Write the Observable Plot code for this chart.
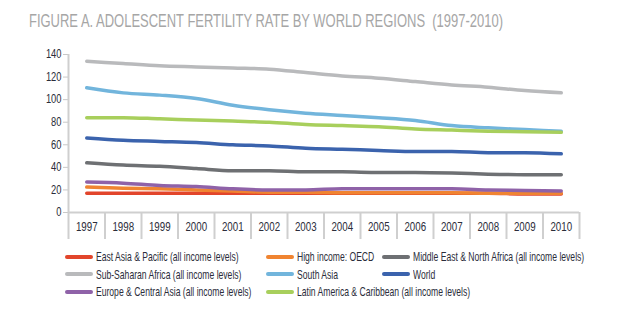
<!DOCTYPE html>
<html>
<head>
<meta charset="utf-8">
<script src="https://cdn.jsdelivr.net/npm/d3@7"></script>
<script src="https://cdn.jsdelivr.net/npm/@observablehq/plot@0.6"></script>
<style>
  body { margin: 0; background: #fff; width: 618px; height: 322px; position: relative; overflow: hidden;
         font-family: "Liberation Sans", Arial, sans-serif; }
  #title { position: absolute; left: 29px; top: 11px; font-size: 18px; color: #a6a6a6; white-space: nowrap; transform-origin: 0 0; }
  #chart { position: absolute; left: 0; top: 38px; }
  #legend { position: absolute; left: 0; top: 249px; width: 618px; height: 60px; }
  .item { position: absolute; display: flex; align-items: center; font-size: 13px; color: #2b2d3a; white-space: nowrap; }
  .sw { width: 28px; height: 4px; border-radius: 2px; margin-right: 3px; flex: none; }
  .lt { display: inline-block; transform-origin: 0 50%; }
</style>
</head>
<body>
<div id="title">FIGURE A. ADOLESCENT FERTILITY RATE BY WORLD REGIONS&nbsp;&nbsp;(1997-2010)</div>
<div id="chart"></div>
<div id="legend"></div>
<script>
const years = [1997, 1998, 1999, 2000, 2001, 2002, 2003, 2004, 2005, 2006, 2007, 2008, 2009, 2010];
const yTicks = [0, 20, 40, 60, 80, 100, 120, 140];

const seriesNames = [
  "East Asia & Pacific (all income levels)",
  "High income: OECD",
  "Middle East & North Africa (all income levels)",
  "Sub-Saharan Africa (all income levels)",
  "South Asia",
  "World",
  "Europe & Central Asia (all income levels)",
  "Latin America & Caribbean (all income levels)"
];
const seriesColors = ["#e2452b", "#f08431", "#6e7073", "#b9babc", "#72b5dc", "#3b63ad", "#8f62a8", "#a8cf5c"];

const eastAsiaPacific = [17, 17, 17, 17, 17, 17, 17, 17, 17, 17, 17, 17, 16.5, 16.5];
const highIncomeOECD  = [22.5, 21.5, 21, 20, 19, 18, 18, 17.5, 17.5, 17.5, 17.5, 17, 17, 17];
const middleEastNA    = [44, 42, 41, 39, 37, 37, 36, 36, 35.5, 35.5, 35, 34, 33.5, 33.5];
const subSaharan      = [134, 132, 130, 129, 128, 127, 124, 121, 119, 116, 113, 111, 108, 106];
const southAsia       = [110.5, 106, 104, 101, 95, 91, 88, 86, 84, 81.5, 77, 75, 73.5, 72];
const world           = [66, 64, 63, 62, 60, 59, 57, 56, 55, 54, 54, 53, 53, 52];
const europeCA        = [27, 26, 24, 23, 21, 20, 20, 21, 21, 21, 21, 20, 19.5, 19];
const latinAmerica    = [84, 84, 83, 82, 81, 80, 78, 77, 76, 74, 73, 72, 71.5, 71];

const seriesValues = [eastAsiaPacific, highIncomeOECD, middleEastNA, subSaharan, southAsia, world, europeCA, latinAmerica];
const drawOrder = [3, 4, 7, 5, 2, 0, 1, 6];

const data = [];
for (const i of drawOrder) {
  years.forEach((yr, j) => data.push({series: seriesNames[i], year: yr, value: seriesValues[i][j]}));
}
const edges = years.map(y => y - 0.5).concat([years[years.length - 1] + 0.5]);

const plot = Plot.plot({
  width: 618,
  height: 210,
  marginLeft: 68,
  marginRight: 39,
  marginTop: 16,
  marginBottom: 36,
  style: { fontFamily: '"Liberation Sans", Arial, sans-serif', fontSize: "12px", color: "#2b2d3a", background: "#fff" },
  x: { domain: [years[0] - 0.5, years[years.length - 1] + 0.5] },
  y: { domain: [0, 140] },
  color: { domain: seriesNames, range: seriesColors },
  marks: [
    Plot.axisY(yTicks, { tickSize: 5, tickPadding: 2, stroke: "#c8c8c8", fill: "#2b2d3a", label: null, fontSize: 12 }),
    Plot.ruleX([edges[0]], { stroke: "#cfcfcf", strokeWidth: 2 }),
    Plot.axisX(edges, { tickSize: 27, tickFormat: () => "", stroke: "#cfcfcf", strokeWidth: 2, label: null }),
    Plot.axisX(years, { tickSize: 0, tickPadding: 10, tickFormat: d => String(d), fill: "#2b2d3a", label: null, fontSize: 12.5 }),
    Plot.ruleY([0], { stroke: "#cfcfcf", strokeWidth: 2 }),
    Plot.line(data, { x: "year", y: "value", z: "series", stroke: "series", strokeWidth: 3.5, curve: "monotone-x" })
  ]
});
document.getElementById("chart").appendChild(plot);

// condense the axis labels horizontally (reference uses a condensed face)
plot.querySelectorAll("text").forEach(t => {
  const tr = t.getAttribute("transform");
  if (tr && !t.hasAttribute("x")) t.setAttribute("transform", tr + " scale(0.78,1)");
});

const colLeft = [65, 266, 382];
const rowTop = [0, 17.5, 35];
const legend = document.getElementById("legend");
seriesNames.forEach((name, k) => {
  const el = document.createElement("div");
  el.className = "item";
  el.style.left = colLeft[k % 3] + "px";
  el.style.top = rowTop[Math.floor(k / 3)] + "px";
  const sw = document.createElement("span");
  sw.className = "sw";
  sw.style.background = seriesColors[k];
  const lt = document.createElement("span");
  lt.className = "lt";
  lt.textContent = name;
  lt.style.transform = "scaleX(0.66)";
  el.appendChild(sw);
  el.appendChild(lt);
  legend.appendChild(el);
});

const title = document.getElementById("title");
const tw = title.getBoundingClientRect().width;
title.style.transform = `scaleX(${474 / tw})`;
</script>
</body>
</html>
